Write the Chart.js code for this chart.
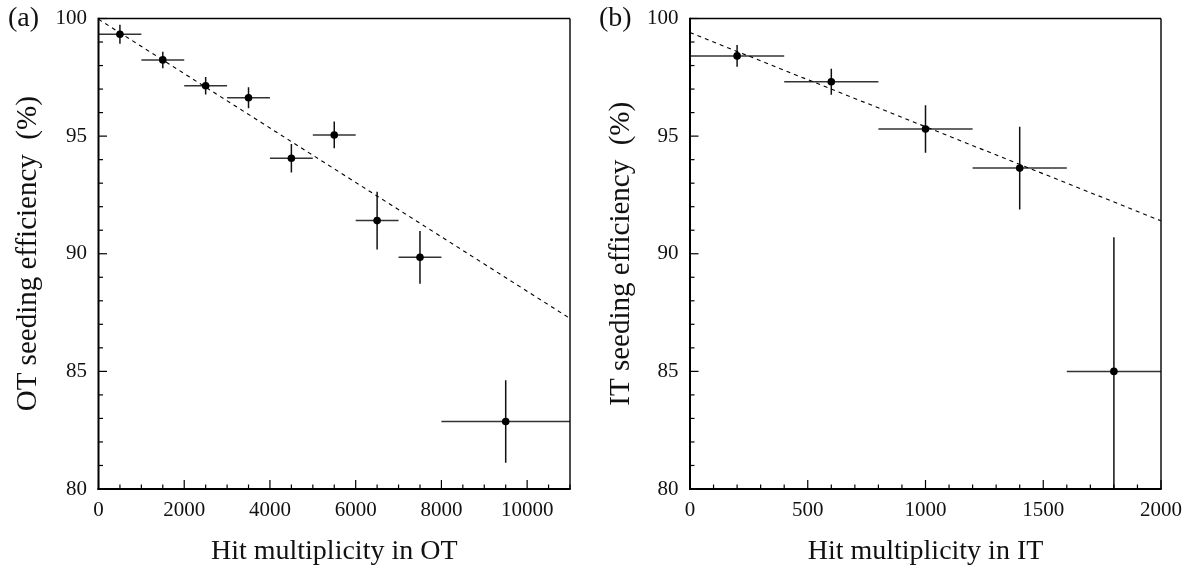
<!DOCTYPE html>
<html><head><meta charset="utf-8">
<script src="https://cdn.jsdelivr.net/npm/chart.js@4/dist/chart.umd.min.js"></script>
<style>
body{margin:0;background:#fff;width:1198px;height:572px;overflow:hidden;position:relative;}
.wrap{position:absolute;top:0;height:572px;}
.lab{position:absolute;font-family:'Liberation Serif',serif;font-size:28px;line-height:28px;color:#111;}
</style></head>
<body>
<div class="wrap" style="left:0;width:595px"><canvas id="cA"></canvas></div>
<div class="wrap" style="left:595px;width:603px"><canvas id="cB"></canvas></div>
<div class="lab" style="left:8px;top:3px">(a)</div>
<div class="lab" style="left:599px;top:3px">(b)</div>
<script>
// ---- Data (a): OT ----
const otX = [500, 1500, 2500, 3500, 4500, 5500, 6500, 7500, 9500];
const otXErr = [500, 500, 500, 500, 500, 500, 500, 500, 1500];
const otEff = [99.33, 98.24, 97.14, 96.63, 94.06, 95.05, 91.41, 89.85, 82.87];
const otEffErr = [0.40, 0.35, 0.37, 0.45, 0.61, 0.57, 1.23, 1.12, 1.75];
const otFitX = [0, 11000];
const otFitY = [99.97, 87.25];
const otXTicks = [0, 2000, 4000, 6000, 8000, 10000];
// ---- Data (b): IT ----
const itX = [200, 600, 1000, 1400, 1800];
const itXErr = [200, 200, 200, 200, 200];
const itEff = [98.41, 97.31, 95.30, 93.64, 85.0];
const itEffErr = [0.46, 0.55, 1.01, 1.76, 5.7];
const itFitX = [0, 2000];
const itFitY = [99.4, 91.4];
const itXTicks = [0, 500, 1000, 1500, 2000];
const effTicks = [80, 85, 90, 95, 100];

const FONT = "'Liberation Serif', 'Times New Roman', serif";
const INK = '#111';

const errPlugin = {
  id: 'errbars',
  beforeDatasetsDraw(chart, args, o) {
    const {ctx, chartArea: a, scales: {x, y}} = chart;
    ctx.save();
    ctx.beginPath(); ctx.rect(a.left, a.top, a.right - a.left, a.bottom - a.top); ctx.clip();
    ctx.lineWidth = 1.5;
    for (let i = 0; i < o.xs.length; i++) {
      const px = x.getPixelForValue(o.xs[i]), py = y.getPixelForValue(o.ys[i]);
      ctx.strokeStyle = '#333';
      ctx.beginPath();
      ctx.moveTo(x.getPixelForValue(o.xs[i] - o.xe[i]), py);
      ctx.lineTo(x.getPixelForValue(o.xs[i] + o.xe[i]), py);
      ctx.stroke();
      ctx.strokeStyle = '#111';
      ctx.beginPath();
      ctx.moveTo(px, y.getPixelForValue(o.ys[i] - o.ye[i]));
      ctx.lineTo(px, y.getPixelForValue(o.ys[i] + o.ye[i]));
      ctx.stroke();
    }
    ctx.restore();
  }
};

const framePlugin = {
  id: 'frame',
  afterDatasetsDraw(chart, args, o) {
    const {ctx, chartArea: a, scales: {x, y}} = chart;
    ctx.save();
    ctx.strokeStyle = '#000';
    ctx.lineWidth = 1.2;
    const seg = (x1, y1, x2, y2) => { ctx.beginPath(); ctx.moveTo(x1, y1); ctx.lineTo(x2, y2); ctx.stroke(); };
    const nx = Math.round((x.max - x.min) / o.xMinor);
    for (let k = 0; k <= nx; k++) {
      const v = x.min + k * o.xMinor;
      const major = Math.abs(v / o.xMajor - Math.round(v / o.xMajor)) < 1e-6;
      const px = x.getPixelForValue(v);
      seg(px, a.bottom, px, a.bottom - (major ? 9 : 4.5));
    }
    const ny = Math.round((y.max - y.min) / o.yMinor);
    for (let k = 0; k <= ny; k++) {
      const v = y.min + k * o.yMinor;
      const major = Math.abs(v / o.yMajor - Math.round(v / o.yMajor)) < 1e-6;
      const py = y.getPixelForValue(v);
      seg(a.left, py, a.left + (major ? 8.5 : 4.5), py);
    }
    ctx.lineWidth = 1.4;
    seg(a.left, a.top, a.right, a.top);
    seg(a.right, a.top, a.right, a.bottom);
    ctx.lineWidth = 2;
    seg(a.left, a.top - 0.7, a.left, a.bottom + 1);
    seg(a.left - 1, a.bottom, a.right + 0.7, a.bottom);
    ctx.restore();
  }
};

function makeChart(id, p) {
  const pts = p.xs.map((v, i) => ({x: v, y: p.ys[i]}));
  const fit = p.fx.map((v, i) => ({x: v, y: p.fy[i]}));
  return new Chart(document.getElementById(id), {
    type: 'scatter',
    data: {
      datasets: [
        {type: 'line', data: fit, borderColor: '#000', borderWidth: 1.1, borderDash: [4, 4],
         pointRadius: 0, fill: false, tension: 0, order: 2},
        {type: 'scatter', data: pts, pointRadius: 3.8, pointHoverRadius: 3.8,
         backgroundColor: '#000', borderColor: '#000', borderWidth: 0, order: 1}
      ]
    },
    options: {
      responsive: false, animation: false, devicePixelRatio: 1,
      layout: {padding: {left: 0, right: p.padRight, top: 18.5, bottom: 0}},
      plugins: {
        legend: {display: false}, tooltip: {enabled: false},
        errbars: {xs: p.xs, ys: p.ys, xe: p.xe, ye: p.ye},
        frame: {xMinor: p.xMinor, xMajor: p.xMajor, yMinor: 1, yMajor: 5}
      },
      scales: {
        x: {
          type: 'linear', position: 'bottom', min: 0, max: p.xMax,
          afterBuildTicks: s => { s.ticks = p.xTicks.map(v => ({value: v})); },
          ticks: {font: {family: FONT, size: 21}, color: INK, padding: 9, maxRotation: 0,
                  autoSkip: false, callback: v => String(v)},
          grid: {display: false, drawTicks: false}, border: {display: false},
          title: {display: true, text: p.xTitle, color: INK,
                  font: {family: FONT, size: 28, lineHeight: 1.2}, padding: {top: 0, bottom: 4}},
          afterFit: s => { s.height = 83; s.paddingLeft = 0; s.paddingRight = 0; }
        },
        y: {
          type: 'linear', position: 'left', min: 80, max: 100,
          afterBuildTicks: s => { s.ticks = effTicks.map(v => ({value: v})); },
          ticks: {font: {family: FONT, size: 21}, color: INK, padding: 11.5,
                  autoSkip: false, callback: v => String(v)},
          grid: {display: false, drawTicks: false}, border: {display: false},
          title: {display: true, text: p.yTitle, color: INK,
                  font: {family: FONT, size: 29, lineHeight: 1.2}, padding: {top: p.yTitlePad, bottom: 0}},
          afterFit: s => { s.width = p.yWidth; s.paddingTop = 0; s.paddingBottom = 0; }
        }
      }
    },
    plugins: [errPlugin, framePlugin]
  });
}

const cA = document.getElementById('cA'); cA.width = 595; cA.height = 572;
const cB = document.getElementById('cB'); cB.width = 603; cB.height = 572;

makeChart('cA', {xs: otX, ys: otEff, xe: otXErr, ye: otEffErr, fx: otFitX, fy: otFitY,
  xMax: 11000, xTicks: otXTicks, xMinor: 500, xMajor: 2000,
  xTitle: 'Hit multiplicity in OT', yTitle: 'OT seeding efficiency  (%)',
  yWidth: 98.5, padRight: 25, yTitlePad: 11});
makeChart('cB', {xs: itX, ys: itEff, xe: itXErr, ye: itEffErr, fx: itFitX, fy: itFitY,
  xMax: 2000, xTicks: itXTicks, xMinor: 100, xMajor: 500,
  xTitle: 'Hit multiplicity in IT', yTitle: 'IT seeding efficiency  (%)',
  yWidth: 95, padRight: 37, yTitlePad: 9});
</script>
</body></html>
